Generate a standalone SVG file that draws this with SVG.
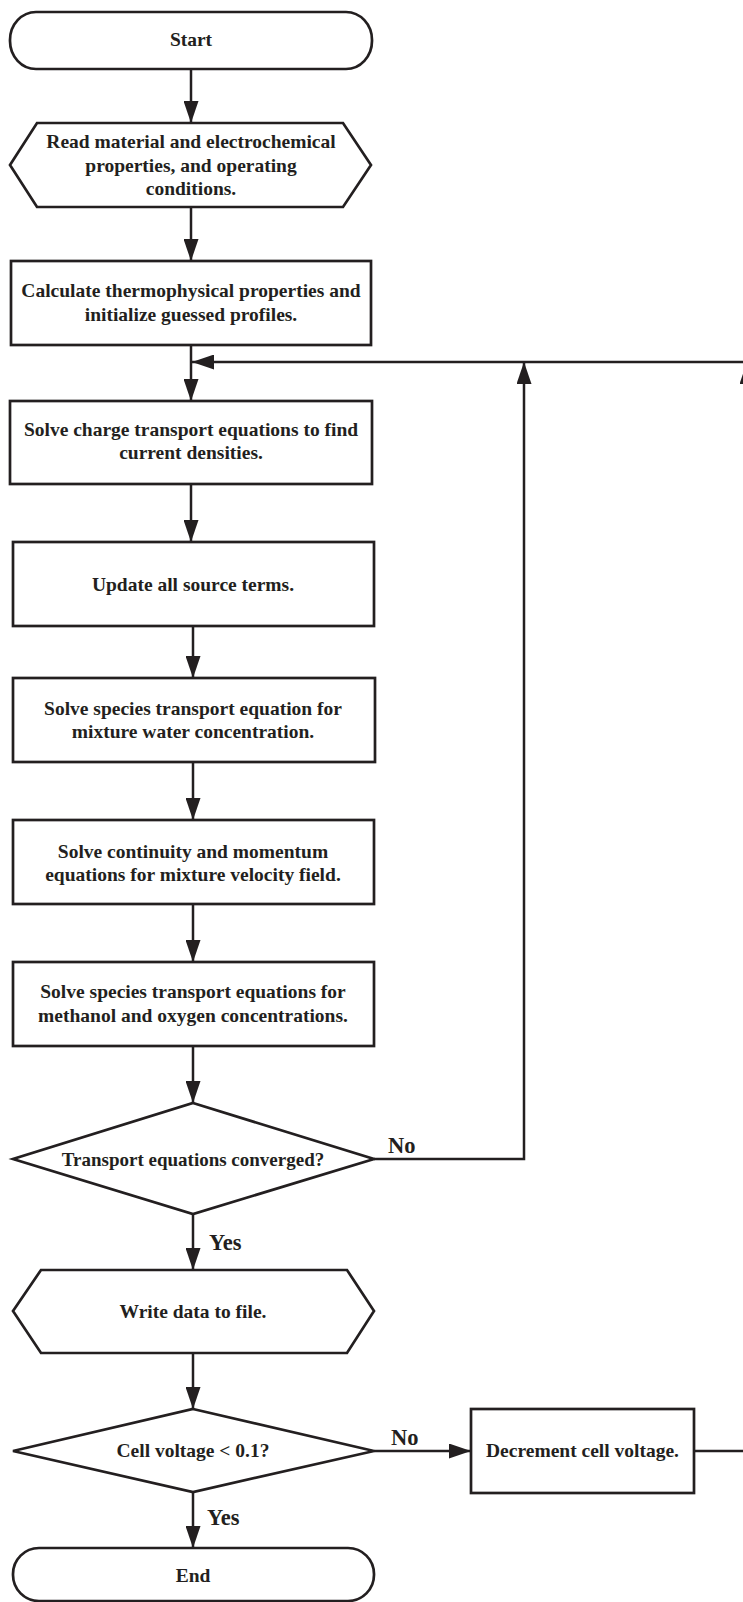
<svg xmlns="http://www.w3.org/2000/svg" width="743" height="1602" viewBox="0 0 743 1602">
<style>
.n{fill:#fff;stroke:#231f20;stroke-width:2.7;stroke-linejoin:miter}
.t{font-family:"Liberation Serif","Times New Roman",serif;font-weight:bold;font-size:19.5px;fill:#231f20;text-anchor:middle}
.l{font-family:"Liberation Serif","Times New Roman",serif;font-weight:bold;font-size:22.5px;fill:#231f20}
.c{fill:none;stroke:#231f20;stroke-width:2.5}
</style>
<defs>
<marker id="ah" markerUnits="userSpaceOnUse" markerWidth="22" markerHeight="15" refX="22" refY="7.5" orient="auto">
<path d="M0,0 L22,7.5 L0,15 Z" fill="#231f20"/>
</marker>
</defs>
<rect width="743" height="1602" fill="#fff"/>
<g id="connectors">
<line class="c" x1="191" y1="69" x2="191" y2="123" marker-end="url(#ah)"/>
<line class="c" x1="191" y1="207" x2="191" y2="261" marker-end="url(#ah)"/>
<line class="c" x1="191" y1="345" x2="191" y2="401" marker-end="url(#ah)"/>
<line class="c" x1="747" y1="362" x2="192" y2="362" marker-end="url(#ah)"/>
<line class="c" x1="191" y1="484" x2="191" y2="542" marker-end="url(#ah)"/>
<line class="c" x1="193" y1="626" x2="193" y2="678" marker-end="url(#ah)"/>
<line class="c" x1="193" y1="762" x2="193" y2="820" marker-end="url(#ah)"/>
<line class="c" x1="193" y1="904" x2="193" y2="962" marker-end="url(#ah)"/>
<line class="c" x1="193" y1="1046" x2="193" y2="1103" marker-end="url(#ah)"/>
<line class="c" x1="193" y1="1214" x2="193" y2="1270" marker-end="url(#ah)"/>
<line class="c" x1="193" y1="1353" x2="193" y2="1409" marker-end="url(#ah)"/>
<line class="c" x1="193" y1="1492" x2="193" y2="1548" marker-end="url(#ah)"/>
<polyline class="c" points="374,1159 524,1159 524,362" marker-end="url(#ah)"/>
<line class="c" x1="374" y1="1451" x2="471" y2="1451" marker-end="url(#ah)"/>
<polyline class="c" points="694,1451 747,1451 747,362" marker-end="url(#ah)"/>
<text class="l" x="388" y="1153">No</text>
<text class="l" x="209" y="1250">Yes</text>
<text class="l" x="391" y="1445">No</text>
<text class="l" x="207" y="1525">Yes</text>
</g>
<g id="start">
<rect class="n" x="10" y="12" width="362" height="57" rx="26" ry="28"/>
<text class="t" x="191" y="46">Start</text>
</g>
<g id="read">
<polygon class="n" points="10,165 37,123 343,123 371,165 343,207 37,207"/>
<text class="t" x="191" y="148">Read material and electrochemical</text>
<text class="t" x="191" y="172">properties, and operating</text>
<text class="t" x="191" y="195">conditions.</text>
</g>
<g id="calc">
<rect class="n" x="11" y="261" width="360" height="84"/>
<text class="t" x="191" y="297">Calculate thermophysical properties and</text>
<text class="t" x="191" y="321">initialize guessed profiles.</text>
</g>
<g id="charge">
<rect class="n" x="10" y="401" width="362" height="83"/>
<text class="t" x="191" y="436">Solve charge transport equations to find</text>
<text class="t" x="191" y="459">current densities.</text>
</g>
<g id="source">
<rect class="n" x="13" y="542" width="361" height="84"/>
<text class="t" x="193" y="591">Update all source terms.</text>
</g>
<g id="water">
<rect class="n" x="13" y="678" width="362" height="84"/>
<text class="t" x="193" y="715">Solve species transport equation for</text>
<text class="t" x="193" y="738">mixture water concentration.</text>
</g>
<g id="velocity">
<rect class="n" x="13" y="820" width="361" height="84"/>
<text class="t" x="193" y="858">Solve continuity and momentum</text>
<text class="t" x="193" y="881">equations for mixture velocity field.</text>
</g>
<g id="methanol">
<rect class="n" x="13" y="962" width="361" height="84"/>
<text class="t" x="193" y="998">Solve species transport equations for</text>
<text class="t" x="193" y="1022">methanol and oxygen concentrations.</text>
</g>
<g id="converged">
<polygon class="n" points="193,1103 374,1159 193,1214 13,1159"/>
<text class="t" x="193" y="1166" style="font-size:19px">Transport equations converged?</text>
</g>
<g id="write">
<polygon class="n" points="13,1311 41,1270 347,1270 374,1311 347,1353 41,1353"/>
<text class="t" x="193" y="1318">Write data to file.</text>
</g>
<g id="voltage">
<polygon class="n" points="193,1409 374,1451 193,1492 13,1451"/>
<text class="t" x="193" y="1457">Cell voltage &lt; 0.1?</text>
</g>
<g id="decrement">
<rect class="n" x="471" y="1409" width="223" height="84"/>
<text class="t" x="582.5" y="1457">Decrement cell voltage.</text>
</g>
<g id="end">
<rect class="n" x="13" y="1548" width="361" height="53" rx="26" ry="26"/>
<text class="t" x="193" y="1582">End</text>
</g>
</svg>
